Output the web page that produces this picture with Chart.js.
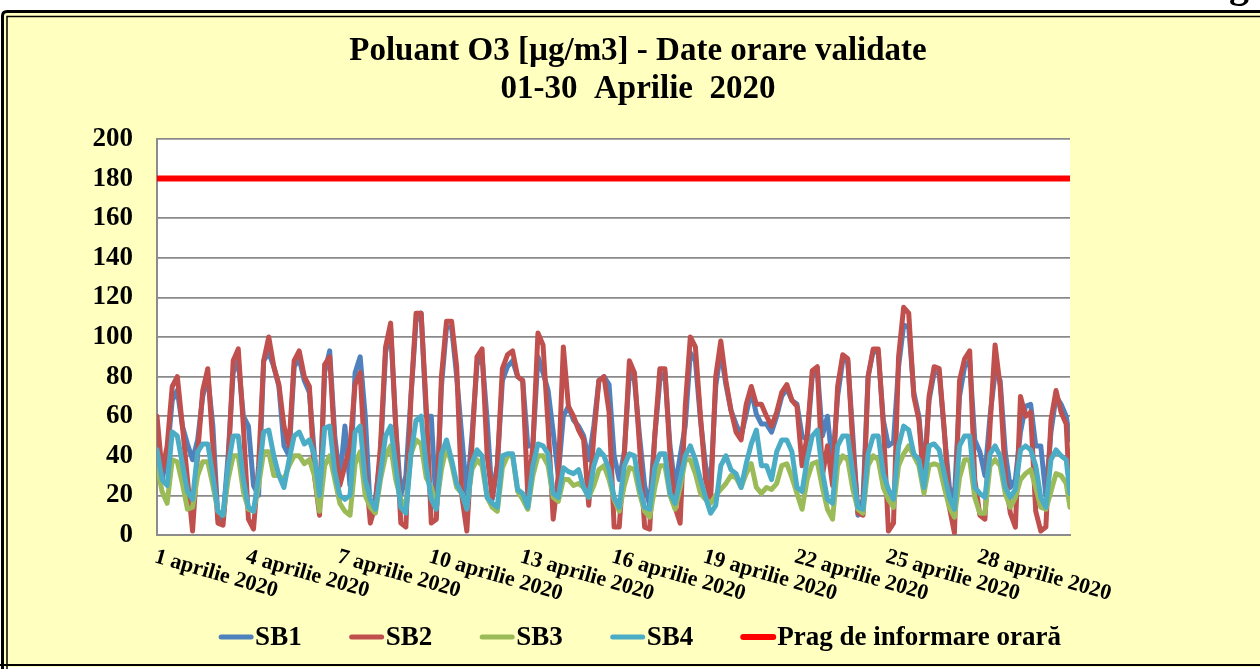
<!DOCTYPE html>
<html>
<head>
<meta charset="utf-8">
<script src="https://cdn.jsdelivr.net/npm/chart.js@4.4.1/dist/chart.umd.min.js"></script>
<style>
  html, body { margin: 0; padding: 0; background: #ffffff; }
  #wrap { width: 1260px; height: 669px; position: relative; }
  canvas { display: block; }
</style>
</head>
<body>
<div id="wrap"><canvas id="c" width="1260" height="669"></canvas></div>
<script>
// ---- Data (hourly O3, sampled every 4 hours, 1-30 April 2020) ----
const sampleHoursOfDay = [0, 4, 8, 12, 16, 20];
const lastHour = 719;
const tickHours = [0, 72, 144, 216, 288, 360, 432, 504, 576, 648];
const tickLabels = ['1 aprilie 2020', '4 aprilie 2020', '7 aprilie 2020', '10 aprilie 2020', '13 aprilie 2020',
  '16 aprilie 2020', '19 aprilie 2020', '22 aprilie 2020', '25 aprilie 2020', '28 aprilie 2020'];
const yTicks = [0, 20, 40, 60, 80, 100, 120, 140, 160, 180, 200];
const titleLines = ['Poluant O3 [µg/m3] - Date orare validate', '01-30  Aprilie  2020'];

const SB1 = [
  50, 28, 40, 68, 73, 55,   46, 38, 48, 70, 80, 55,   8, 8, 40, 82, 88, 60,
  55, 25, 20, 88, 92, 85,   75, 45, 40, 85, 89, 78,   72, 40, 15, 82, 93, 50,
  28, 55, 25, 82, 90, 60,   12, 18, 40, 92, 104, 55,  20, 30, 70, 108, 112, 60,
  60, 12, 75, 105, 105, 80, 50, 20, 50, 86, 90, 58,   18, 35, 78, 85, 88, 80,
  78, 45, 45, 90, 82, 73,   52, 30, 60, 65, 58, 55,   50, 38, 55, 78, 80, 76,
  40, 28, 42, 82, 78, 50,   25, 15, 50, 78, 82, 45,   24, 40, 55, 92, 88, 58,
  35, 25, 75, 93, 76, 63,   56, 50, 61, 73, 61, 56,   56, 52, 60, 70, 74, 68,
  66, 50, 48, 80, 84, 50,   60, 35, 70, 88, 88, 50,   10, 18, 80, 93, 92, 58,
  45, 47, 85, 106, 105, 72, 60, 30, 68, 82, 82, 52,   24, 19, 70, 85, 88, 48,
  42, 30, 60, 82, 78, 42,   24, 28, 52, 65, 66, 45,   45, 20, 52, 70, 66, 60,
  48
];
const SB2 = [
  60, 32, 45, 75, 80, 55,   28, 2, 41, 73, 84, 45,    6, 5, 35, 88, 94, 55,
  8, 3, 35, 88, 100, 85,    76, 55, 45, 88, 93, 80,   75, 30, 10, 86, 90, 45,
  25, 35, 45, 76, 82, 35,   6, 15, 45, 95, 107, 55,   6, 4, 70, 112, 112, 65,
  6, 8, 80, 108, 108, 85,   20, 2, 45, 90, 94, 40,    19, 35, 84, 91, 93, 80,
  78, 20, 45, 102, 96, 55,  8, 30, 95, 65, 60, 53,    48, 15, 50, 78, 80, 62,
  4, 4, 40, 88, 82, 45,     4, 3, 50, 84, 84, 40,     14, 6, 65, 100, 95, 60,
  28, 18, 80, 98, 78, 63,   52, 48, 66, 75, 66, 66,   60, 55, 62, 72, 76, 68,
  65, 35, 50, 83, 85, 30,   45, 25, 75, 91, 89, 45,   11, 10, 80, 94, 94, 55,
  2, 6, 90, 115, 112, 70,   58, 24, 70, 85, 84, 53,   14, 1, 78, 89, 93, 28,
  10, 8, 55, 96, 75, 30,    11, 4, 70, 60, 62, 12,    2, 4, 58, 73, 62, 56,
  18
];
const SB3 = [
  35, 22, 16, 38, 37, 26,   13, 14, 30, 37, 37, 25,   12, 10, 28, 40, 40, 22,
  13, 12, 25, 42, 42, 30,   30, 28, 35, 40, 40, 36,   38, 30, 12, 35, 40, 28,
  16, 12, 10, 36, 42, 20,   14, 11, 28, 40, 45, 28,   18, 14, 41, 48, 46, 29,
  24, 14, 33, 45, 36, 24,   21, 14, 33, 38, 35, 19,   14, 12, 34, 40, 40, 22,
  18, 13, 30, 40, 40, 35,   19, 17, 28, 28, 25, 26,   24, 19, 25, 33, 35, 28,
  18, 12, 25, 34, 33, 21,   12, 9, 24, 35, 35, 20,    13, 24, 38, 38, 31, 21,
  18, 16, 20, 23, 26, 30,   29, 24, 31, 36, 24, 21,   24, 23, 26, 35, 36, 29,
  21, 13, 28, 36, 37, 24,   13, 8, 35, 40, 38, 23,    13, 11, 35, 40, 38, 24,
  18, 14, 35, 41, 45, 40,   35, 21, 35, 36, 35, 24,   14, 9, 29, 38, 38, 19,
  11, 11, 35, 38, 35, 21,   14, 19, 28, 31, 33, 24,   14, 13, 22, 31, 30, 26,
  14
];
const SB4 = [
  43, 28, 25, 52, 50, 36,   22, 18, 42, 46, 46, 30,   12, 10, 35, 50, 50, 28,
  14, 12, 30, 52, 53, 40,   30, 24, 38, 50, 52, 46,   48, 40, 20, 54, 55, 32,
  20, 18, 20, 52, 55, 28,   18, 13, 31, 50, 55, 35,   14, 11, 41, 58, 60, 35,
  18, 13, 41, 48, 38, 26,   21, 13, 36, 43, 40, 19,   16, 14, 40, 41, 41, 23,
  21, 14, 35, 46, 45, 41,   21, 19, 34, 32, 31, 33,   24, 19, 35, 43, 40, 33,
  19, 14, 35, 41, 40, 24,   14, 13, 34, 41, 41, 21,   16, 28, 40, 45, 38, 28,
  19, 11, 15, 35, 40, 33,   31, 24, 36, 46, 53, 35,   35, 28, 42, 48, 48, 42,
  24, 22, 38, 50, 53, 32,   18, 16, 45, 50, 50, 31,   14, 13, 41, 50, 50, 31,
  23, 18, 45, 55, 53, 41,   38, 24, 45, 46, 43, 31,   19, 13, 45, 50, 50, 24,
  21, 19, 41, 45, 40, 24,   19, 23, 43, 45, 43, 35,   19, 14, 38, 43, 40, 38,
  21
];
const pragHours = [0, 719];
const pragValues = [180, 180];

const seriesNames = ['SB1', 'SB2', 'SB3', 'SB4', 'Prag de informare orară'];
const seriesColors = ['#4F81BD', '#C0504D', '#9BBB59', '#4BACC6', '#FF0000'];

// x positions (hour index) of the samples
const sampleHours = [];
for (let d = 0; d < 30; d++) for (const h of sampleHoursOfDay) sampleHours.push(d * 24 + h);
sampleHours.push(lastHour);

const toPts = (vals, xs) => vals.map((v, i) => ({ x: xs[i], y: v }));

const FONT = "'Liberation Serif', 'Times New Roman', serif";

const framePlugin = {
  id: 'frame',
  beforeDraw(chart) {
    const ctx = chart.ctx;
    const W = chart.width, H = chart.height;
    ctx.save();
    ctx.fillStyle = '#ffffff';
    ctx.fillRect(0, 0, W, H);
    // cut-off character from the text above the chart
    ctx.fillStyle = '#000000';
    ctx.font = 'bold 40px ' + FONT;
    ctx.textAlign = 'left';
    ctx.textBaseline = 'alphabetic';
    ctx.fillText('g', 1229, -3);
    ctx.fillStyle = '#FFFFC0';
    ctx.fillRect(3, 12, W, H - 14);
    ctx.strokeStyle = '#000000';
    ctx.lineWidth = 3;
    ctx.beginPath();
    ctx.moveTo(2.5, H);
    ctx.lineTo(2.5, 16);
    ctx.quadraticCurveTo(2.5, 11.5, 7, 11.5);
    ctx.lineTo(W, 11.5);
    ctx.stroke();
    ctx.lineWidth = 1.5;
    ctx.beginPath();
    ctx.moveTo(7, H);
    ctx.lineTo(7, 16.5);
    ctx.lineTo(W, 16.5);
    ctx.stroke();
    ctx.lineWidth = 2;
    ctx.beginPath();
    ctx.moveTo(0, 665);
    ctx.lineTo(W, 665);
    ctx.stroke();
    // plot area background
    const a = chart.chartArea;
    ctx.fillStyle = '#ffffff';
    ctx.fillRect(a.left, a.top, a.right - a.left, a.bottom - a.top);
    ctx.restore();
  },
  afterDraw(chart) {
    const ctx = chart.ctx;
    const xs = chart.scales.x;
    const a = chart.chartArea;
    ctx.save();
    ctx.fillStyle = '#000000';

    // title
    ctx.font = 'bold 33px ' + FONT;
    ctx.textAlign = 'center';
    ctx.textBaseline = 'middle';
    titleLines.forEach((t, i) => ctx.fillText(t, 638, 51 + i * 38));

    // rotated x-axis labels
    ctx.font = 'bold 22px ' + FONT;
    ctx.textAlign = 'left';
    ctx.textBaseline = 'top';
    tickHours.forEach((h, i) => {
      const px = xs.getPixelForValue(h);
      ctx.save();
      ctx.translate(px + 1, a.bottom + 11);
      ctx.rotate(16 * Math.PI / 180);
      ctx.fillText(tickLabels[i], 0, 0);
      ctx.restore();
    });

    // legend
    ctx.font = 'bold 27px ' + FONT;
    ctx.textBaseline = 'middle';
    const lineLen = 34, gapTxt = 2, gapItem = 48, ly = 637;
    const ds = chart.data.datasets;
    const widths = ds.map(d => lineLen + gapTxt + ctx.measureText(d.label).width);
    const total = widths.reduce((s, w) => s + w, 0) + gapItem * (ds.length - 1);
    let x = 640 - total / 2;
    ds.forEach((d, i) => {
      ctx.strokeStyle = d.borderColor;
      ctx.lineWidth = i === 4 ? 6 : 5;
      ctx.lineCap = 'round';
      ctx.beginPath();
      ctx.moveTo(x + 2, ly);
      ctx.lineTo(x + lineLen - 2, ly);
      ctx.stroke();
      ctx.fillStyle = '#000000';
      ctx.fillText(d.label, x + lineLen + gapTxt, ly + 1);
      x += widths[i] + gapItem;
    });
    ctx.restore();
  }
};

const datasets = [SB1, SB2, SB3, SB4].map((vals, i) => ({
  label: seriesNames[i],
  data: toPts(vals, sampleHours),
  borderColor: seriesColors[i],
  backgroundColor: seriesColors[i],
  borderWidth: 5,
  pointRadius: 0,
  tension: 0,
  borderJoinStyle: 'round',
  borderCapStyle: 'round',
  order: 4 - i
}));
datasets.push({
  label: seriesNames[4],
  data: toPts(pragValues, pragHours),
  borderColor: seriesColors[4],
  backgroundColor: seriesColors[4],
  borderWidth: 6,
  pointRadius: 0,
  borderCapStyle: 'round',
  order: 0
});

new Chart(document.getElementById('c'), {
  type: 'line',
  data: { datasets },
  plugins: [framePlugin],
  options: {
    responsive: false,
    animation: false,
    layout: { padding: { left: 0, right: 190, top: 139, bottom: 0 } },
    plugins: {
      title: { display: false },
      legend: { display: false },
      tooltip: { enabled: false }
    },
    scales: {
      x: {
        type: 'linear',
        min: 0,
        max: 719,
        grid: { display: false },
        border: { display: true, color: '#8c8c8c', width: 2 },
        ticks: { display: false },
        afterFit(scale) { scale.height = 134; }
      },
      y: {
        min: 0,
        max: 200,
        afterBuildTicks(scale) { scale.ticks = yTicks.map(v => ({ value: v })); },
        grid: { color: '#8a8a8a', lineWidth: 1.8, drawTicks: false },
        border: { display: true, color: '#8c8c8c', width: 2 },
        ticks: {
          color: '#000000',
          font: { family: FONT, size: 27, weight: 'bold' },
          padding: 24
        },
        afterFit(scale) { scale.width = 157; }
      }
    }
  }
});
</script>
</body>
</html>
